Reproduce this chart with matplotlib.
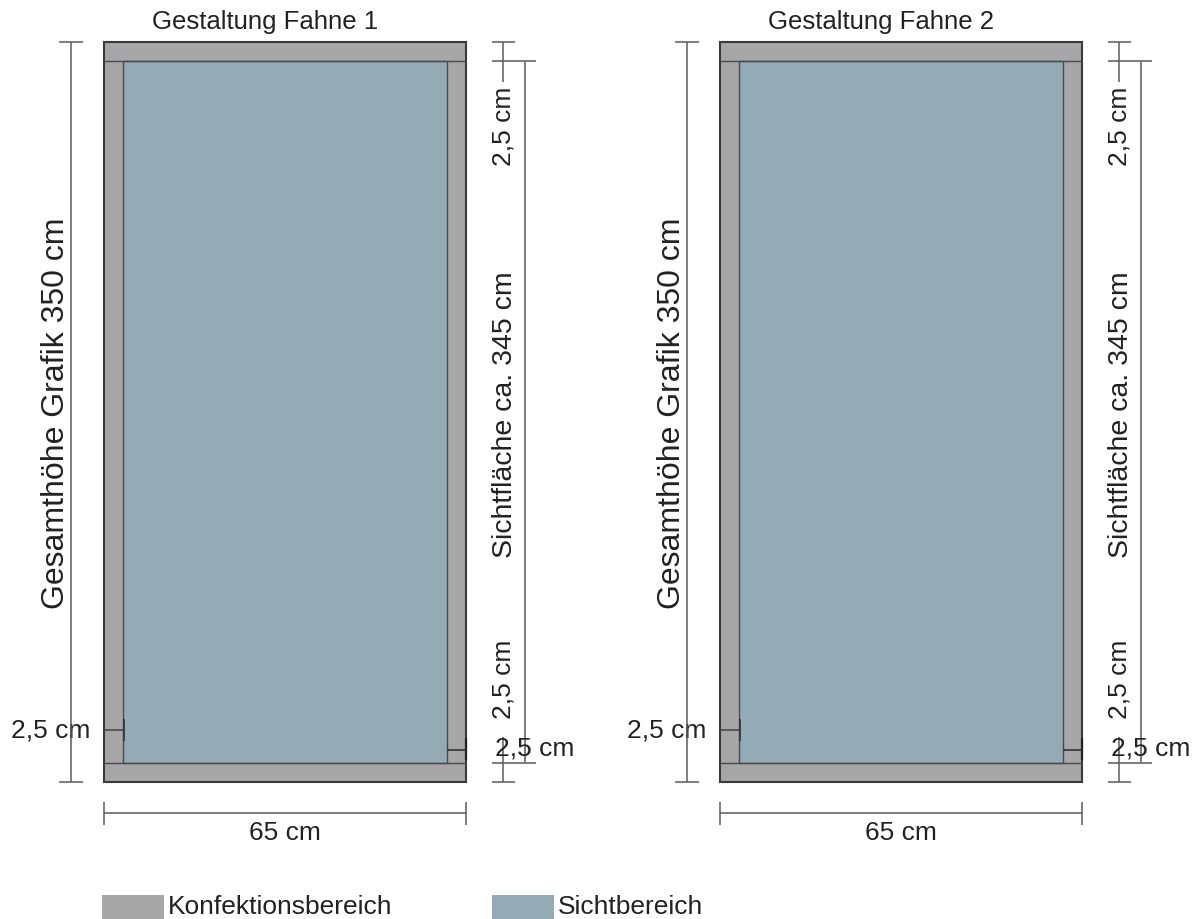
import matplotlib
matplotlib.use("Agg")
import matplotlib.pyplot as plt
from matplotlib.patches import Rectangle

# ---- data ----
titles = ["Gestaltung Fahne 1", "Gestaltung Fahne 2"]
total_height_cm = 350
visible_height_cm = 345
hem_cm = 2.5
width_cm = 65
legend_labels = ["Konfektionsbereich", "Sichtbereich"]

def cm(v):
    return (f"{v:g}").replace(".", ",") + " cm"

total_label = f"Gesamthöhe Grafik {total_height_cm} cm"
visible_label = f"Sichtfläche ca. {visible_height_cm} cm"
hem_label = cm(hem_cm)
width_label = cm(width_cm)

# ---- style / layout (pixel space) ----
GRAY = "#a7a7aa"
BLUE = "#94aab4"
EDGE = "#3a3a3a"
DIM = "#5a5a5a"
TXT = "#222222"
FONT = "Liberation Sans"
FS = 19

banner_left = [104, 720]
W, TOP, H, HEM = 362, 43, 740, 19

fig = plt.figure(figsize=(11.95, 9.2), dpi=100)
ax = fig.add_axes([0, 0, 1, 1])
ax.set_xlim(0, 1195)
ax.set_ylim(920, 0)
ax.axis("off")

def line(xs, ys, c=DIM, lw=1.1, z=3):
    ax.plot(xs, ys, color=c, lw=lw, solid_capstyle="butt", zorder=z)

for i, x0 in enumerate(banner_left):
    x1 = x0 + W
    bot = TOP + H
    ax.add_patch(Rectangle((x0, TOP), W, H, facecolor=GRAY, edgecolor=EDGE, lw=1.5, zorder=1))
    ax.add_patch(Rectangle((x0 + HEM, TOP + HEM), W - 2 * HEM, H - 2 * HEM,
                           facecolor=BLUE, edgecolor="#4a4a4a", lw=1.0, zorder=2))
    line([x0, x1], [TOP + HEM] * 2, c="#4a4a4a", lw=1.0)
    line([x0, x1], [bot - HEM] * 2, c="#4a4a4a", lw=1.0)

    # title
    ax.text(x0 + 161, 22, titles[i], ha="center", va="center", fontsize=18.5,
            color=TXT, family=FONT)

    # left total height dimension
    lx = x0 - 33
    line([lx, lx], [TOP, bot])
    line([lx - 12, lx + 12], [TOP, TOP])
    line([lx - 12, lx + 12], [bot, bot])
    ax.text(lx - 15, 413, total_label, rotation=90, ha="center", va="center",
            fontsize=23, color=TXT, family=FONT)

    # left hem marker
    line([x0, x0 + HEM], [731, 731], c="#4a4a4a", lw=1.2)
    line([x0 + HEM + 1, x0 + HEM + 1], [720, 742], c="#333333", lw=1.2)
    ax.text(x0 - 14, 731, hem_label, ha="right", va="center", fontsize=FS,
            color=TXT, family=FONT, zorder=2)

    # right hem marker
    line([x1 - HEM, x1], [751, 751], c="#333333", lw=1.2)
    line([x1 + 0.5, x1 + 0.5], [739, 761], c="#222222", lw=1.6)

    # right dimensions
    rx1 = x1 + 37
    rx2 = x1 + 59
    line([rx1, rx1], [TOP, TOP + 40])
    line([rx1, rx1], [738, bot])
    line([rx1 - 11, rx1 + 12], [TOP, TOP])
    line([rx1 - 11, rx2 + 11], [TOP + HEM, TOP + HEM])
    line([rx1 - 11, rx2 + 11], [bot - HEM, bot - HEM])
    line([rx1 - 11, rx1 + 12], [bot, bot])
    line([rx2, rx2], [TOP + HEM, bot - HEM])
    ax.text(rx1 + 1, 126, hem_label, rotation=90, ha="center", va="center",
            fontsize=FS, color=TXT, family=FONT)
    ax.text(rx1 + 2, 415, visible_label, rotation=90, ha="center", va="center",
            fontsize=20.5, color=TXT, family=FONT)
    ax.text(rx1 + 1, 679, hem_label, rotation=90, ha="center", va="center",
            fontsize=FS, color=TXT, family=FONT)
    ax.text(rx1 - 8, 749, hem_label, ha="left", va="center", fontsize=FS,
            color=TXT, family=FONT)

    # width dimension
    wy = 814
    line([x0, x1], [wy, wy])
    line([x0, x0], [803, 826])
    line([x1, x1], [803, 826])
    ax.text(x0 + W / 2, 833, width_label, ha="center", va="center", fontsize=FS,
            color=TXT, family=FONT)

# legend
for (sx, col, lab) in [(102, GRAY, legend_labels[0]), (492, BLUE, legend_labels[1])]:
    ax.add_patch(Rectangle((sx, 896), 62, 24, facecolor=col, edgecolor="none", zorder=1))
    ax.text(sx + 66, 907, lab, ha="left", va="center", fontsize=FS, color=TXT, family=FONT)

fig.savefig("out.png", dpi=100)
